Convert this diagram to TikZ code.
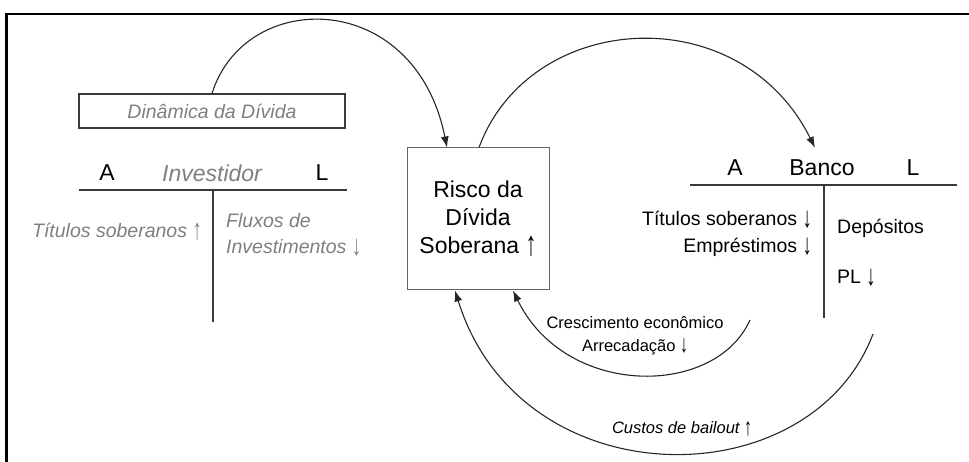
\documentclass[tikz,border=0pt]{standalone}
\usepackage{fontspec}
\usepackage{graphicx}
\setmainfont{Liberation Sans}
\usetikzlibrary{arrows.meta}
\definecolor{txtgray}{HTML}{7F7F7F}
\definecolor{linegray}{HTML}{3A3A3A}
\newcommand\uparr{\raisebox{-0.1em}{\scalebox{0.95}[1.5]{↑}}}
\newcommand\dnarr{\raisebox{-0.1em}{\scalebox{0.95}[1.5]{↓}}}
\tikzset{
  lbl/.style={inner sep=0pt},
  glbl/.style={inner sep=0pt, text=txtgray, font=\itshape},
  tline/.style={draw=linegray, line width=1.8pt},
  flow/.style={draw=black!85, line width=1.1pt, -{Latex[length=11pt,width=8pt]}},
  big/.style={font=\fontsize{23}{28}\selectfont},
  mid/.style={font=\fontsize{19.5}{27}\selectfont},
  small/.style={font=\fontsize{16.5}{23}\selectfont}
}
\begin{document}
\begin{tikzpicture}[x=1pt,y=-1pt]
\useasboundingbox (0,0) rectangle (969,462);
% frame
\draw[line width=2.7pt] (6.7,462) -- (6.7,14) -- (969,14);

% Dinamica box
\node[draw=linegray, line width=1.1pt, minimum width=266pt, minimum height=34pt, inner sep=0pt,
      text=txtgray, font=\fontsize{19.5}{24}\itshape\selectfont] (din) at (212,111) {Dinâmica da Dívida};

% Investidor T account
\node[lbl, big] (invA) at (107,173) {A};
\node[glbl, font=\fontsize{23}{28}\itshape\selectfont] (inv) at (212,173) {Investidor};
\node[lbl, big] (invL) at (322,173) {L};
\draw[tline] (79,190) -- (347,190);
\draw[tline] (213,190) -- (213,322);
\node[glbl, anchor=east, font=\fontsize{19.5}{26}\itshape\selectfont] (invTit) at (202,232) {Títulos soberanos \uparr};
\node[glbl, anchor=west, align=left, font=\fontsize{19.5}{26}\itshape\selectfont] (invFlu) at (226,235) {Fluxos de\\Investimentos \dnarr};

% Risco box
\node[draw=black!60, line width=1pt, minimum width=142pt, minimum height=142pt, inner sep=0pt,
      align=center, big] (risco) at (478,219) {Risco da\\Dívida\\Soberana \uparr};

% Banco T account
\node[lbl, big] (bA) at (735,168) {A};
\node[lbl, big] (banco) at (822,168) {Banco};
\node[lbl, big] (bL) at (913,168) {L};
\draw[tline] (690,185) -- (957,185);
\draw[tline] (824,185) -- (824,318);
\node[lbl, anchor=east, align=right, mid] (bTit) at (812,233.5) {Títulos soberanos \dnarr\\Empréstimos \dnarr};
\node[lbl, anchor=west, mid] (bDep) at (837,228) {Depósitos};
\node[lbl, anchor=west, mid] (bPL) at (837,278) {PL \dnarr};

% arcs
\draw[flow] (din.north) .. controls (245,-12) and (415,-12) .. ([xshift=-31pt]risco.north);
\draw[flow] ([xshift=1pt]risco.north) .. controls (530,10) and (740,-3) .. ([xshift=-7pt,yshift=12pt]banco.north);

\coordinate (c1) at (750,320);
\coordinate (c2) at (873,334);
\draw[flow] (c1) .. controls (715,398) and (565,398) .. ([xshift=35pt]risco.south);
\draw[flow] (c2) .. controls (810,500) and (520,500) .. ([xshift=-23pt]risco.south);

\node[lbl, align=center, small] (cres) at (635,335.5) {Crescimento econômico\\Arrecadação \dnarr};
\node[lbl, small, font=\fontsize{16.5}{23}\itshape\selectfont] (cust) at (682,429) {Custos de bailout \uparr};
\end{tikzpicture}
\end{document}
